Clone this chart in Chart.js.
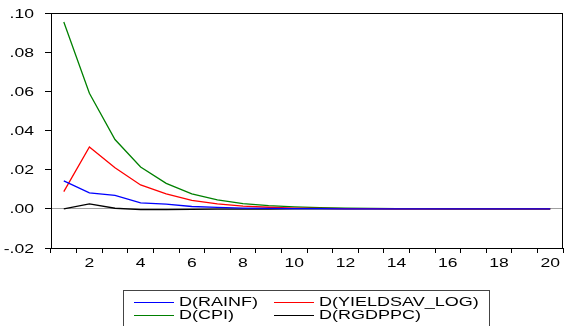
<!DOCTYPE html>
<html lang="en">
<head>
    <meta charset="UTF-8">
    <title>Impulse responses</title>
    <script src="https://cdn.jsdelivr.net/npm/chart.js"></script>
    <style>
        body {
            margin: 0;
            background: #ffffff;
            font-family: 'Liberation Sans', Arial, sans-serif;
            overflow: hidden;
        }
        .wrap {
            position: relative;
            width: 565px;
            height: 326px;
            overflow: hidden;
        }
        #legend {
            position: absolute;
            left: 123px;
            top: 290px;
            width: 367px;
            height: 45px;
            border: 1px solid #444;
            box-sizing: border-box;
        }
        .swatch {
            position: absolute;
            width: 40px;
            height: 0;
            border-top: 1.3px solid;
        }
        .lbl {
            position: absolute;
            font-size: 12.5px;
            line-height: 14px;
            color: #000;
            white-space: nowrap;
            transform: scaleX(1.44);
            transform-origin: 0 50%;
        }
    </style>
</head>
<body>
<div class="wrap">
    <canvas id="chart" width="565" height="326"></canvas>
    <div id="legend"></div>
</div>
<script>
    const periods = ['1','2','3','4','5','6','7','8','9','10','11','12','13','14','15','16','17','18','19','20'];
    const yTicks = [-0.02, 0.00, 0.02, 0.04, 0.06, 0.08, 0.10];

    const rainf = [0.0143, 0.0082, 0.0069, 0.0030, 0.0024, 0.0012, 0.0007, 0.0004, 0.0002, 0.0001,
                   0.0001, 0.0000, 0.0000, 0.0000, 0.0000, 0.0000, 0.0000, 0.0000, 0.0000, 0.0000];
    const yieldsav = [0.0088, 0.0316, 0.0210, 0.0122, 0.0076, 0.0043, 0.0025, 0.0014, 0.0008, 0.0004,
                      0.0002, 0.0001, 0.0001, 0.0000, 0.0000, 0.0000, 0.0000, 0.0000, 0.0000, 0.0000];
    const cpi = [0.0954, 0.0590, 0.0354, 0.0214, 0.0130, 0.0076, 0.0046, 0.0027, 0.0016, 0.0010,
                 0.0006, 0.0003, 0.0002, 0.0001, 0.0001, 0.0000, 0.0000, 0.0000, 0.0000, 0.0000];
    const rgdppc = [0.0000, 0.0025, 0.0003, -0.0004, -0.0004, -0.0003, -0.0002, -0.0001, -0.0001, 0.0000,
                    0.0000, 0.0000, 0.0000, 0.0000, 0.0000, 0.0000, 0.0000, 0.0000, 0.0000, 0.0000];

    const seriesNames = ['D(RAINF)', 'D(YIELDSAV_LOG)', 'D(CPI)', 'D(RGDPPC)'];
    const seriesColors = ['#0000ff', '#ff0000', '#008000', '#000000'];
    const seriesData = [rainf, yieldsav, cpi, rgdppc];

    const TICK_FONT = '13px "Liberation Sans", Arial, sans-serif';
    const STRETCH = 1.35; // the original's axis text is drawn wide

    function fmtTick(v) {
        if (Math.abs(v) < 1e-9) return '.00';
        return v.toFixed(2).replace('0.', '.');
    }

    function wideText(ctx, txt, x, y, align) {
        ctx.save();
        ctx.translate(x, y);
        ctx.scale(STRETCH, 1);
        ctx.textAlign = align;
        ctx.fillText(txt, 0, 0);
        ctx.restore();
    }

    // frame around the plot area plus the stretched tick labels
    const frame = {
        id: 'frame',
        afterDraw(chart) {
            const a = chart.chartArea;
            const ctx = chart.ctx;
            ctx.save();
            ctx.strokeStyle = '#000';
            ctx.lineWidth = 1;
            ctx.strokeRect(Math.round(a.left) + 0.5, Math.round(a.top) + 0.5,
                           Math.round(a.right - a.left) - 1, Math.round(a.bottom - a.top));

            ctx.fillStyle = '#000';
            ctx.font = TICK_FONT;
            ctx.textBaseline = 'middle';
            const ys = chart.scales.y;
            ys.ticks.forEach(t => {
                wideText(ctx, fmtTick(t.value), 34, ys.getPixelForValue(t.value) + 1, 'right');
            });
            const xs = chart.scales.x;
            periods.forEach((p, i) => {
                if (Number(p) % 2 === 0) {
                    wideText(ctx, p, xs.getPixelForValue(i), a.bottom + 15, 'center');
                }
            });
            ctx.restore();
        }
    };

    new Chart(document.getElementById('chart'), {
        type: 'line',
        data: {
            labels: periods,
            datasets: seriesData.map((d, i) => ({
                label: seriesNames[i],
                data: d,
                borderColor: seriesColors[i],
                borderWidth: 1.3,
                pointRadius: 0,
                tension: 0,
                fill: false
            }))
        },
        options: {
            responsive: false,
            animation: false,
            layout: { padding: { top: 13, right: 2, left: 0, bottom: 0 } },
            plugins: {
                legend: { display: false },
                tooltip: { enabled: false }
            },
            scales: {
                x: {
                    type: 'category',
                    offset: true,
                    afterFit: (s) => { s.height = 78; },
                    grid: {
                        offset: true,
                        drawOnChartArea: false,
                        drawTicks: true,
                        tickLength: 5,
                        color: '#000',
                        tickColor: '#000'
                    },
                    border: { display: true, color: '#000' },
                    ticks: {
                        autoSkip: false,
                        maxRotation: 0,
                        color: 'rgba(0,0,0,0)',
                        font: { size: 13 }
                    }
                },
                y: {
                    min: -0.02,
                    max: 0.10,
                    afterFit: (s) => { s.width = 51; },
                    afterBuildTicks: (s) => { s.ticks = yTicks.map(v => ({ value: v })); },
                    grid: {
                        drawOnChartArea: true,
                        drawTicks: true,
                        tickLength: 6,
                        color: (c) => (c.tick && Math.abs(c.tick.value) < 1e-9) ? '#a0a0a0' : 'rgba(0,0,0,0)',
                        tickColor: '#000'
                    },
                    border: { display: true, color: '#000' },
                    ticks: {
                        color: 'rgba(0,0,0,0)',
                        font: { size: 13 },
                        callback: (v) => fmtTick(v)
                    }
                }
            }
        },
        plugins: [frame]
    });

    // two-column legend box under the plot
    const legend = document.getElementById('legend');
    const cols = [10, 150];
    const rows = [11, 24];
    seriesNames.forEach((name, i) => {
        const x = cols[i % 2];
        const y = rows[Math.floor(i / 2)];
        const sw = document.createElement('div');
        sw.className = 'swatch';
        sw.style.left = x + 'px';
        sw.style.top = y + 'px';
        sw.style.borderTopColor = seriesColors[i];
        legend.appendChild(sw);
        const t = document.createElement('div');
        t.className = 'lbl';
        t.style.left = (x + 45) + 'px';
        t.style.top = (y - 7) + 'px';
        t.textContent = name;
        legend.appendChild(t);
    });
</script>
</body>
</html>
